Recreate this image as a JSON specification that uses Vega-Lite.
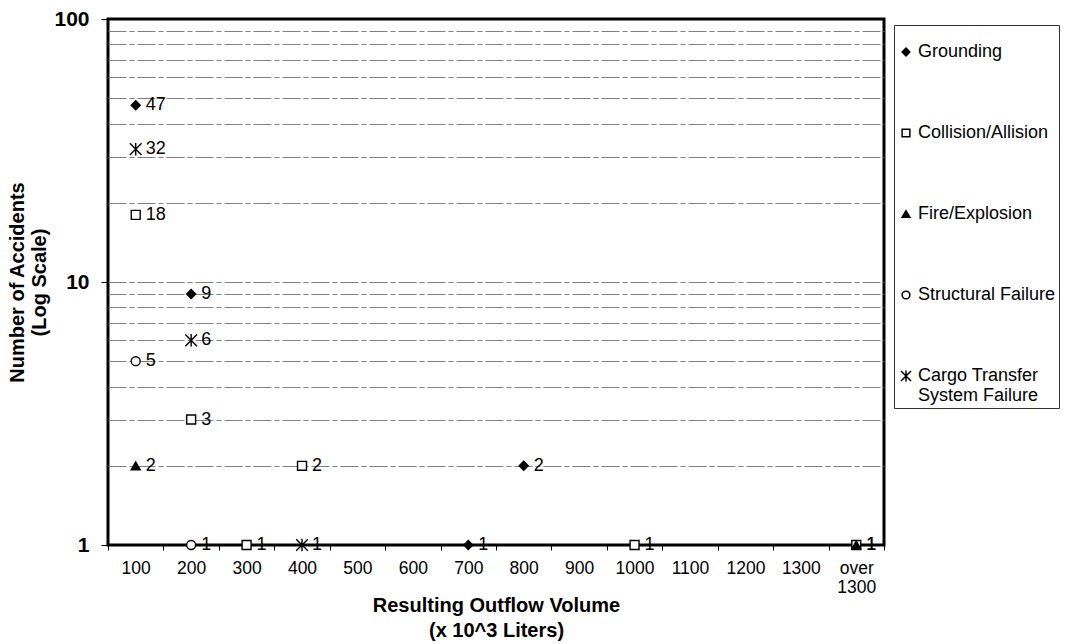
{
  "$schema": "https://vega.github.io/schema/vega-lite/v6.json",
  "autosize": "none",
  "width": 776,
  "height": 526,
  "padding": {"left": 108, "top": 19, "right": 183, "bottom": 99},
  "background": "white",
  "config": {
    "font": "Liberation Sans",
    "view": {"stroke": "black", "strokeWidth": 3},
    "axis": {"domain": false, "labelColor": "black", "titleColor": "black", "tickColor": "black"},
    "legend": {"strokeColor": "#333", "fillColor": "white"}
  },
  "data": {
    "values": [
      {"volume": "100", "accidents": 47, "cause": "Grounding"},
      {"volume": "200", "accidents": 9, "cause": "Grounding"},
      {"volume": "700", "accidents": 1, "cause": "Grounding"},
      {"volume": "800", "accidents": 2, "cause": "Grounding"},
      {"volume": "100", "accidents": 18, "cause": "Collision/Allision"},
      {"volume": "200", "accidents": 3, "cause": "Collision/Allision"},
      {"volume": "300", "accidents": 1, "cause": "Collision/Allision"},
      {"volume": "400", "accidents": 2, "cause": "Collision/Allision"},
      {"volume": "1000", "accidents": 1, "cause": "Collision/Allision"},
      {"volume": "over 1300", "accidents": 1, "cause": "Collision/Allision"},
      {"volume": "100", "accidents": 2, "cause": "Fire/Explosion"},
      {"volume": "over 1300", "accidents": 1, "cause": "Fire/Explosion"},
      {"volume": "100", "accidents": 5, "cause": "Structural Failure"},
      {"volume": "200", "accidents": 1, "cause": "Structural Failure"},
      {"volume": "100", "accidents": 32, "cause": "Cargo Transfer System Failure"},
      {"volume": "200", "accidents": 6, "cause": "Cargo Transfer System Failure"},
      {"volume": "400", "accidents": 1, "cause": "Cargo Transfer System Failure"}
    ]
  },
  "encoding": {
    "x": {
      "field": "volume",
      "type": "ordinal",
      "scale": {"domain": ["100","200","300","400","500","600","700","800","900","1000","1100","1200","1300","over 1300"], "paddingInner": 0, "paddingOuter": 0},
      "axis": {
        "title": ["Resulting Outflow Volume", "(x 10^3 Liters)"],
        "titleFontSize": 20,
        "titleFontWeight": "bold",
        "titleLineHeight": 25,
        "titlePadding": 0,
        "labelAngle": 0,
        "labelFontSize": 17.5,
        "labelPadding": 9,
        "labelLineHeight": 19,
        "labelExpr": "datum.value == 'over 1300' ? ['over', '1300'] : datum.label",
        "tickBand": "extent",
        "tickSize": 5,
        "grid": false
      }
    }
  },
  "resolve": {"axis": {"y": "independent"}},
  "layer": [
    {
      "mark": {"type": "point", "stroke": "black", "strokeWidth": 1.4, "opacity": 1, "size": 80},
      "encoding": {
        "y": {
          "field": "accidents",
          "type": "quantitative",
          "scale": {"type": "log", "domain": [1, 100]},
          "axis": {
            "orient": "left",
            "title": null,
            "values": [2,3,4,5,6,7,8,9,10,20,30,40,50,60,70,80,90],
            "labels": false,
            "ticks": false,
            "grid": true,
            "gridColor": "#808080",
            "gridDash": [18, 3, 5, 3],
            "gridWidth": 1
          }
        },
        "shape": {
          "field": "cause",
          "type": "nominal",
          "scale": {
            "domain": ["Grounding", "Collision/Allision", "Fire/Explosion", "Structural Failure", "Cargo Transfer System Failure"],
            "range": ["diamond", "square", "triangle-up", "circle", "M-1.3,-1.3L1.3,1.3M-1.3,1.3L1.3,-1.3M0,-1.4L0,1.4"]
          },
          "legend": {
            "title": " ",
            "titleFontSize": 10,
            "titlePadding": 5,
            "orient": "none",
            "legendX": 786,
            "legendY": 6,
            "padding": 3,
            "labelFontSize": 18,
            "labelColor": "black",
            "labelLimit": 220,
            "labelExpr": "datum.label == 'Cargo Transfer System Failure' ? ['Cargo Transfer', 'System Failure'] : datum.label",
            "symbolSize": 60,
            "labelOffset": 3,
            "rowPadding": 63,
            "encode": {"symbols": {"update": {"stroke": {"value": "black"}, "strokeWidth": {"value": 1.3}}}}
          }
        },
        "fill": {
          "field": "cause",
          "type": "nominal",
          "scale": {
            "domain": ["Grounding", "Collision/Allision", "Fire/Explosion", "Structural Failure", "Cargo Transfer System Failure"],
            "range": ["black", "white", "black", "white", "black"]
          },
          "legend": null
        }
      }
    },
    {
      "mark": {"type": "text", "align": "left", "baseline": "middle", "dx": 10, "fontSize": 18, "color": "black"},
      "encoding": {
        "y": {
          "field": "accidents",
          "type": "quantitative",
          "scale": {"type": "log", "domain": [1, 100]},
          "axis": {
            "orient": "left",
            "title": ["Number of Accidents", "(Log Scale)"],
            "titleFontSize": 20,
            "titleFontWeight": "bold",
            "titleLineHeight": 22,
            "titlePadding": 4,
            "values": [1, 10, 100],
            "labelFontSize": 21,
            "labelFontWeight": "bold",
            "labelPadding": 12,
            "tickSize": 7,
            "grid": false
          }
        },
        "text": {"field": "accidents", "type": "quantitative"}
      }
    }
  ]
}
